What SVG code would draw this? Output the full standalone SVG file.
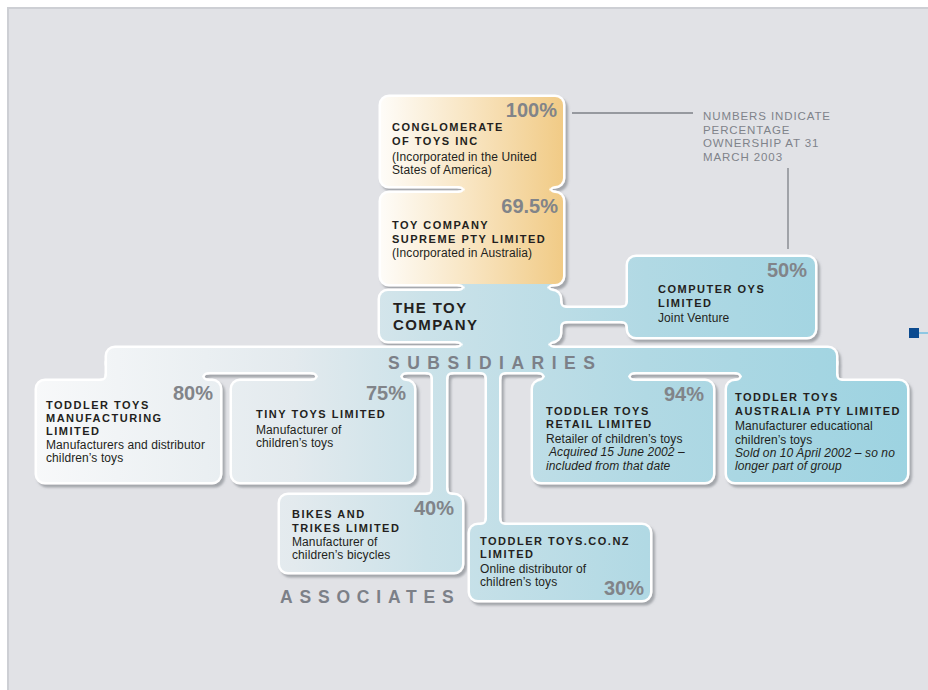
<svg xmlns="http://www.w3.org/2000/svg" xmlns:xlink="http://www.w3.org/1999/xlink" width="928" height="690" viewBox="0 0 928 690">
<style>
text{font-family:"Liberation Sans",Arial,sans-serif}
.nm{font-size:11px;font-weight:bold;letter-spacing:1.5px;fill:#231f20}
.big{font-size:15px;font-weight:bold;letter-spacing:1.4px;fill:#231f20}
.ds{font-size:12px;fill:#231f20;letter-spacing:0.1px}
.it{font-style:italic}
.pc{font-size:20px;font-weight:bold;fill:#818489;text-anchor:end}
.hd{font-size:17.5px;font-weight:bold;fill:#7c8088}
.nt{font-size:11.5px;fill:#7f838a;letter-spacing:0.9px}
.ol{fill:#fff;stroke:#fff;stroke-width:5;stroke-linejoin:round}
.fb{fill:url(#gb)}
.fg{fill:url(#gg)}
.ln{stroke:#7d8188;stroke-width:1.3;fill:none}
</style>
<defs>
<linearGradient id="gb" gradientUnits="userSpaceOnUse" x1="30" y1="0" x2="910" y2="0">
<stop offset="0" stop-color="#f8f9fa"/>
<stop offset="0.3" stop-color="#e3eaee"/>
<stop offset="0.45" stop-color="#cbe2e9"/>
<stop offset="0.7" stop-color="#b1d9e4"/>
<stop offset="1" stop-color="#9dd3e1"/>
</linearGradient>
<linearGradient id="gg" gradientUnits="userSpaceOnUse" x1="381" y1="0" x2="563" y2="0">
<stop offset="0" stop-color="#fefcf8"/>
<stop offset="0.5" stop-color="#f8e4c0"/>
<stop offset="1" stop-color="#f1cb86"/>
</linearGradient>
<filter id="sh" filterUnits="userSpaceOnUse" x="0" y="0" width="928" height="690">
<feDropShadow dx="2.5" dy="3" stdDeviation="1.3" flood-color="#6f747c" flood-opacity="0.55"/>
</filter>
<rect id="b-cong" x="381" y="97" width="182" height="89" rx="8"/>
<rect id="b-supr" x="381" y="193" width="182" height="91" rx="8"/>
<rect id="b-toy" x="380" y="291" width="180" height="50" rx="8"/>
<rect id="b-comp" x="628" y="257" width="187" height="80" rx="8"/>
<rect id="b-manu" x="37" y="381" width="183" height="101" rx="8"/>
<rect id="b-tiny" x="232" y="381" width="182" height="101" rx="8"/>
<rect id="b-reta" x="533" y="381" width="180" height="101" rx="8"/>
<rect id="b-aust" x="727" y="381" width="180" height="101" rx="8"/>
<rect id="b-bike" x="280" y="495" width="182" height="77" rx="8"/>
<rect id="b-conz" x="470" y="525" width="180" height="75" rx="8"/>
<rect id="c-n1" x="465" y="180" width="84" height="18"/>
<rect id="c-n2" x="465" y="279" width="82" height="16"/>
<rect id="c-n3" x="463" y="336" width="85" height="16"/>
<rect id="c-jv" x="555" y="308" width="78" height="13"/>
<rect id="c-bar" x="107" y="348" width="729" height="24" rx="8"/>
<rect id="c-j1" x="107" y="362" width="95" height="26"/>
<rect id="c-j2" x="318" y="362" width="82" height="26"/>
<rect id="c-s1" x="433" y="362" width="13" height="140"/>
<rect id="c-s2" x="487" y="362" width="12" height="170"/>
<rect id="c-j3" x="545" y="362" width="83" height="26"/>
<rect id="c-j4" x="742" y="362" width="94" height="26"/>
<path id="c-fg" d="M465,192 L465,186 L459,186 A6 6 0 0 1 465,192Z M549,192 L549,186 L555,186 A6 6 0 0 0 549,192Z M465,187 L465,193 L459,193 A6 6 0 0 0 465,187Z M549,187 L549,193 L555,193 A6 6 0 0 1 549,187Z"/>
<path id="c-fb" d="M433,489 L433,495 L427,495 A6 6 0 0 0 433,489Z M446,489 L446,495 L452,495 A6 6 0 0 1 446,489Z M433,378 L433,372 L427,372 A6 6 0 0 1 433,378Z M446,378 L446,372 L452,372 A6 6 0 0 0 446,378Z M487,519 L487,525 L481,525 A6 6 0 0 0 487,519Z M499,519 L499,525 L505,525 A6 6 0 0 1 499,519Z M487,378 L487,372 L481,372 A6 6 0 0 1 487,378Z M499,378 L499,372 L505,372 A6 6 0 0 0 499,378Z M202,378 L202,372 L208,372 A6 6 0 0 0 202,378Z M202,375 L202,381 L208,381 A6 6 0 0 1 202,375Z M107,375 L107,381 L101,381 A6 6 0 0 0 107,375Z M318,378 L318,372 L312,372 A6 6 0 0 1 318,378Z M318,375 L318,381 L312,381 A6 6 0 0 0 318,375Z M400,378 L400,372 L406,372 A6 6 0 0 0 400,378Z M400,375 L400,381 L406,381 A6 6 0 0 1 400,375Z M545,378 L545,372 L539,372 A6 6 0 0 1 545,378Z M545,375 L545,381 L539,381 A6 6 0 0 0 545,375Z M628,378 L628,372 L634,372 A6 6 0 0 0 628,378Z M628,375 L628,381 L634,381 A6 6 0 0 1 628,375Z M742,378 L742,372 L736,372 A6 6 0 0 1 742,378Z M742,375 L742,381 L736,381 A6 6 0 0 0 742,375Z M836,375 L836,381 L842,381 A6 6 0 0 1 836,375Z M465,290 L465,284 L459,284 A6 6 0 0 1 465,290Z M547,290 L547,284 L553,284 A6 6 0 0 0 547,290Z M465,285 L465,291 L459,291 A6 6 0 0 0 465,285Z M547,285 L547,291 L553,291 A6 6 0 0 1 547,285Z M463,347 L463,341 L457,341 A6 6 0 0 1 463,347Z M548,347 L548,341 L554,341 A6 6 0 0 0 548,347Z M463,342 L463,348 L457,348 A6 6 0 0 0 463,342Z M548,342 L548,348 L554,348 A6 6 0 0 1 548,342Z M560,302 L560,308 L566,308 A6 6 0 0 1 560,302Z M560,327 L560,321 L566,321 A6 6 0 0 0 560,327Z M628,302 L628,308 L622,308 A6 6 0 0 0 628,302Z M628,327 L628,321 L622,321 A6 6 0 0 1 628,327Z"/>
</defs>

<rect x="0" y="0" width="928" height="690" fill="#ffffff"/>
<rect x="7" y="7" width="921" height="683" fill="#e1e2e6"/>
<path d="M8 690 V8 H928" fill="none" stroke="#cdcfd4" stroke-width="2"/>

<g id="outline" filter="url(#sh)">
<use xlink:href="#b-cong" class="ol"/><use xlink:href="#b-supr" class="ol"/><use xlink:href="#b-toy" class="ol"/>
<use xlink:href="#b-comp" class="ol"/><use xlink:href="#b-manu" class="ol"/><use xlink:href="#b-tiny" class="ol"/>
<use xlink:href="#b-reta" class="ol"/><use xlink:href="#b-aust" class="ol"/><use xlink:href="#b-bike" class="ol"/>
<use xlink:href="#b-conz" class="ol"/>
<use xlink:href="#c-n1" class="ol"/><use xlink:href="#c-n2" class="ol"/><use xlink:href="#c-n3" class="ol"/>
<use xlink:href="#c-jv" class="ol"/><use xlink:href="#c-bar" class="ol"/><use xlink:href="#c-j1" class="ol"/>
<use xlink:href="#c-j2" class="ol"/><use xlink:href="#c-s1" class="ol"/><use xlink:href="#c-s2" class="ol"/>
<use xlink:href="#c-j3" class="ol"/><use xlink:href="#c-j4" class="ol"/>
<use xlink:href="#c-fg" class="ol"/><use xlink:href="#c-fb" class="ol"/>
</g>

<g id="connectors">
<use xlink:href="#c-n1" class="fg"/>
<use xlink:href="#c-fg" class="fg"/>
<use xlink:href="#c-n2" class="fb"/>
<use xlink:href="#c-n3" class="fb"/>
<use xlink:href="#c-jv" class="fb"/>
<use xlink:href="#c-bar" class="fb"/>
<use xlink:href="#c-j1" class="fb"/>
<use xlink:href="#c-j2" class="fb"/>
<use xlink:href="#c-s1" class="fb"/>
<use xlink:href="#c-s2" class="fb"/>
<use xlink:href="#c-j3" class="fb"/>
<use xlink:href="#c-j4" class="fb"/>
<use xlink:href="#c-fb" class="fb"/>
<path class="ln" d="M572 113 H693 M788 168 V249"/>
</g>

<g id="node-conglomerate">
<use xlink:href="#b-cong" class="fg"/>
<text class="pc" x="557" y="117">100%</text>
<text class="nm" x="392" y="131">CONGLOMERATE</text>
<text class="nm" x="392" y="145">OF TOYS INC</text>
<text class="ds" x="392" y="161">(Incorporated in the United</text>
<text class="ds" x="392" y="174">States of America)</text>
</g>

<g id="node-supreme">
<use xlink:href="#b-supr" class="fg"/>
<text class="pc" x="558" y="213">69.5%</text>
<text class="nm" x="392" y="229">TOY COMPANY</text>
<text class="nm" x="392" y="243">SUPREME PTY LIMITED</text>
<text class="ds" x="392" y="257">(Incorporated in Australia)</text>
</g>

<g id="node-toy-company">
<use xlink:href="#b-toy" class="fb"/>
<text class="big" x="393" y="313">THE TOY</text>
<text class="big" x="393" y="330">COMPANY</text>
</g>

<g id="node-computer">
<use xlink:href="#b-comp" class="fb"/>
<text class="pc" x="807" y="277">50%</text>
<text class="nm" x="658" y="293">COMPUTER OYS</text>
<text class="nm" x="658" y="307">LIMITED</text>
<text class="ds" x="658" y="322">Joint Venture</text>
</g>

<g id="label-subsidiaries">
<text class="hd" x="388" y="369" letter-spacing="7.5">SUBSIDIARIES</text>
</g>

<g id="node-manufacturing">
<use xlink:href="#b-manu" class="fb"/>
<text class="pc" x="213" y="400">80%</text>
<text class="nm" x="46" y="409">TODDLER TOYS</text>
<text class="nm" x="46" y="422">MANUFACTURING</text>
<text class="nm" x="46" y="435">LIMITED</text>
<text class="ds" x="46" y="449">Manufacturers and distributor</text>
<text class="ds" x="46" y="462">children’s toys</text>
</g>

<g id="node-tiny">
<use xlink:href="#b-tiny" class="fb"/>
<text class="pc" x="406" y="400">75%</text>
<text class="nm" x="256" y="418">TINY TOYS LIMITED</text>
<text class="ds" x="256" y="434">Manufacturer of</text>
<text class="ds" x="256" y="447">children’s toys</text>
</g>

<g id="node-retail">
<use xlink:href="#b-reta" class="fb"/>
<text class="pc" x="704" y="401">94%</text>
<text class="nm" x="546" y="415">TODDLER TOYS</text>
<text class="nm" x="546" y="428">RETAIL LIMITED</text>
<text class="ds" x="546" y="443">Retailer of children’s toys</text>
<text class="ds it" x="549" y="456">Acquired 15 June 2002 –</text>
<text class="ds it" x="546" y="469.5">included from that date</text>
</g>

<g id="node-australia">
<use xlink:href="#b-aust" class="fb"/>
<text class="nm" x="735" y="401">TODDLER TOYS</text>
<text class="nm" x="735" y="415">AUSTRALIA PTY LIMITED</text>
<text class="ds" x="735" y="430">Manufacturer educational</text>
<text class="ds" x="735" y="443.5">children’s toys</text>
<text class="ds it" x="735" y="457">Sold on 10 April 2002 – so no</text>
<text class="ds it" x="735" y="470">longer part of group</text>
</g>

<g id="node-bikes">
<use xlink:href="#b-bike" class="fb"/>
<text class="pc" x="454" y="515">40%</text>
<text class="nm" x="292" y="518">BIKES AND</text>
<text class="nm" x="292" y="532">TRIKES LIMITED</text>
<text class="ds" x="292" y="546">Manufacturer of</text>
<text class="ds" x="292" y="559">children’s bicycles</text>
</g>

<g id="node-conz">
<use xlink:href="#b-conz" class="fb"/>
<text class="nm" x="480" y="545">TODDLER TOYS.CO.NZ</text>
<text class="nm" x="480" y="558">LIMITED</text>
<text class="ds" x="480" y="573">Online distributor of</text>
<text class="ds" x="480" y="586">children’s toys</text>
<text class="pc" x="644" y="595">30%</text>
</g>

<g id="label-associates">
<text class="hd" x="280" y="603" letter-spacing="6.8">ASSOCIATES</text>
</g>

<g id="note">
<text class="nt" x="703" y="120">NUMBERS INDICATE</text>
<text class="nt" x="703" y="133.5">PERCENTAGE</text>
<text class="nt" x="703" y="147">OWNERSHIP AT 31</text>
<text class="nt" x="703" y="160.5">MARCH 2003</text>
</g>

<g id="edge-marker">
<rect x="909" y="328" width="10" height="10" fill="#0b4a8f"/>
<line x1="919" y1="333" x2="928" y2="333" stroke="#3aaee0" stroke-width="1"/>
</g>
</svg>
